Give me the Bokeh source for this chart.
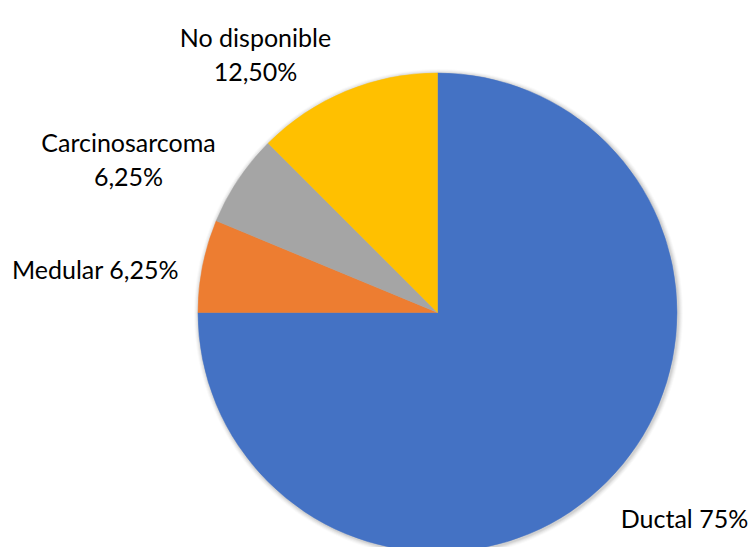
import math

from bokeh.core.properties import value
from bokeh.embed import file_html
from bokeh.models import Range1d
from bokeh.plotting import figure
from bokeh.resources import INLINE

# Tumour types and their share (%)
categories = ["Ductal", "Medular", "Carcinosarcoma", "No disponible"]
shares = [75.0, 6.25, 6.25, 12.5]
label_lines = [
    ["Ductal 75%"],
    ["Medular 6,25%"],
    ["Carcinosarcoma", "6,25%"],
    ["No disponible", "12,50%"],
]
colors = ["#4472C4", "#ED7D31", "#A5A5A5", "#FFC000"]

W, H = 750, 547
CX, CY, R = 437.0, H - 312.0, 239.5
FONT = "Lato"
FONT_SIZE = 25
LINE_GAP = 34
# anchor (centre x, first-line baseline y, in page pixels from top) for each label
label_anchor = [(684, 517), (95, 268), (128, 141), (255, 36)]

p = figure(width=W, height=H, output_backend="svg", toolbar_location=None,
           x_range=Range1d(0, W), y_range=Range1d(0, H),
           min_border=0, outline_line_color=None, background_fill_color="white")
p.axis.visible = False
p.grid.visible = False

# soft shadow around the rim
for i, a in enumerate([0.05, 0.05, 0.04, 0.03, 0.02]):
    p.circle(x=[CX + 1], y=[CY - 1], radius=R + 1 + i, fill_color="black",
             fill_alpha=a, line_color=None)

total = sum(shares)
start = math.pi / 2
starts, ends = [], []
for s in shares:
    end = start - 2 * math.pi * s / total
    starts.append(start)
    ends.append(end)
    start = end

p.wedge(x=[CX] * len(shares), y=[CY] * len(shares), radius=R,
        start_angle=starts, end_angle=ends, direction="clock",
        fill_color=colors, line_color=colors, line_width=0.5)

xs, ys, texts = [], [], []
for lines, (ax, ay) in zip(label_lines, label_anchor):
    for k, t in enumerate(lines):
        xs.append(ax)
        ys.append(H - (ay + k * LINE_GAP))
        texts.append(t)

p.text(x=xs, y=ys, text=texts, text_align="center", text_baseline="alphabetic",
       text_font=value(FONT), text_font_size=f"{FONT_SIZE}px", text_color="black")

open("out.html", "w").write(file_html(p, INLINE))
